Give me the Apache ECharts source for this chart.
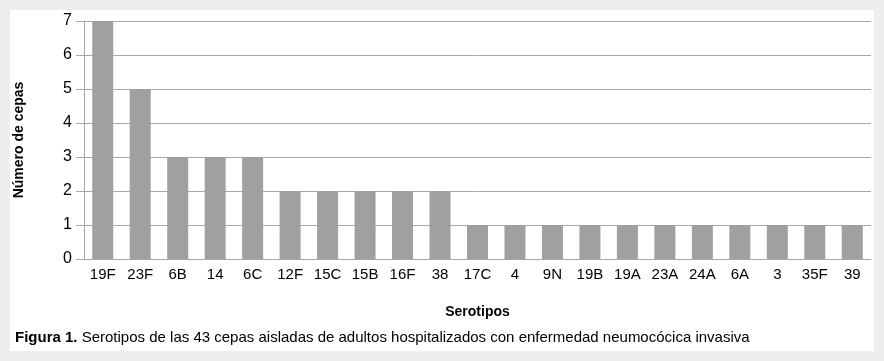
<!DOCTYPE html>
<html>
<head>
<meta charset="utf-8">
<script src="https://cdn.jsdelivr.net/npm/echarts@6/dist/echarts.min.js"></script>
<style>html,body{margin:0;padding:0;background:#eeeeee;}#c{width:884px;height:361px;}</style>
</head>
<body>
<div id="c"></div>
<script>
const categories = ['19F','23F','6B','14','6C','12F','15C','15B','16F','38','17C','4','9N','19B','19A','23A','24A','6A','3','35F','39'];
const values = [7,5,3,3,3,2,2,2,2,2,1,1,1,1,1,1,1,1,1,1,1];
const yTicks = [0,1,2,3,4,5,6,7];

const chart = echarts.init(document.getElementById('c'));
const font = '"Liberation Sans", Arial, sans-serif';
chart.setOption({
  backgroundColor: '#eeeeee',
  animation: false,
  graphic: [
    { type: 'rect', shape: { x: 10, y: 10, width: 864, height: 341 }, style: { fill: '#ffffff' }, z: -10 },
    { type: 'text', left: 15, top: 330, style: {
        text: '{b|Figura 1.} Serotipos de las 43 cepas aisladas de adultos hospitalizados con enfermedad neumocócica invasiva',
        rich: { b: { fontWeight: 'bold', fontSize: 15, fontFamily: font, fill: '#000' } },
        fontSize: 15, fontFamily: font, fill: '#000' } }
  ],
  grid: { left: 84, right: 13, top: 21, bottom: 102, containLabel: false, outerBoundsMode: 'none' },
  xAxis: {
    type: 'category', data: categories,
    name: 'Serotipos', nameLocation: 'middle', nameGap: 46,
    nameTextStyle: { fontWeight: 'bold', fontSize: 14, fontFamily: font, color: '#000' },
    axisLine: { lineStyle: { color: '#a8a8a8', width: 1 } },
    axisTick: { show: false },
    axisLabel: { color: '#000', fontSize: 15, fontFamily: font, margin: 8, interval: 0 }
  },
  yAxis: {
    type: 'value', min: yTicks[0], max: yTicks[yTicks.length-1], interval: 1,
    name: 'Número de cepas', nameLocation: 'middle', nameGap: 58,
    nameTextStyle: { fontWeight: 'bold', fontSize: 14, fontFamily: font, color: '#000' },
    axisLine: { show: true, lineStyle: { color: '#a8a8a8', width: 1 } },
    axisTick: { show: true, length: 8, lineStyle: { color: '#a8a8a8' } },
    axisLabel: { color: '#000', fontSize: 16, fontFamily: font, margin: 12 },
    splitLine: { lineStyle: { color: '#a8a8a8', width: 1 } }
  },
  series: [{
    type: 'bar', data: values, barWidth: 21,
    itemStyle: { color: '#a0a0a0' }
  }]
});
</script>
</body>
</html>
